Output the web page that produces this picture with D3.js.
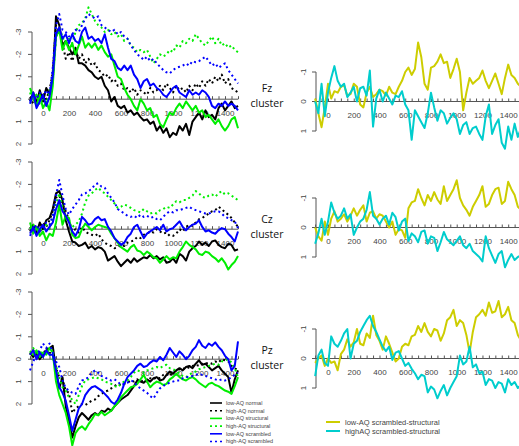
<!DOCTYPE html>
<html>
<head>
<meta charset="utf-8">
<script src="https://cdn.jsdelivr.net/npm/d3@7"></script>
<style>
  body { margin: 0; background: #fff; }
  svg { display: block; }
</style>
</head>
<body>
<svg id="chart" width="519" height="446"></svg>
<script>
// sample times (ms), one value every 25 ms from -100 to 1500
const times = d3.range(-100, 1501, 25)

const xTickLabels = [0, 200, 400, 600, 800, 1000, 1200, 1400]
const leftYTicks = [-3, -2, -1, 0, 1, 2]
const rightYTicks = [-1, 0, 1]
const clusterNames = ["Fz", "Cz", "Pz"]

const leftSeriesNames = ["low-AQ normal", "high-AQ normal", "low-AQ structural", "high-AQ structural", "low-AQ scrambled", "high-AQ scrambled"]
const rightSeriesNames = ["low-AQ scrambled-structural", "highAQ scrambled-structural"]

// ---- Fz cluster ----
const fzLowNormal = [0.1,-0.3,0.2,-0.4,0.1,-0.5,-0.2,-0.8,-3.7,-3.3,-2.4,-2.6,-2.3,-2.0,-2.3,-1.6,-1.6,-1.5,-1.3,-1.2,-1.0,-0.9,-1.0,-0.6,-0.4,0.1,-0.1,0.3,0.4,0.3,0.6,0.5,0.7,0.6,0.8,0.95,0.9,1.1,1.0,1.4,1.2,1.5,1.3,1.7,1.5,1.6,1.2,1.4,1.1,1.6,1.0,0.8,0.6,0.9,0.5,0.8,0.7,0.9,0.4,0.2,0.5,0.3,0.1,0.4,0.3]
const fzHighNormal = [-0.1,0.2,-0.2,0.1,-0.3,0.0,-0.4,-1.2,-3.3,-3.0,-2.5,-1.8,-2.1,-1.7,-2.2,-1.8,-2.0,-1.6,-1.8,-1.5,-1.6,-1.3,-1.2,-1.0,-1.1,-0.8,-0.9,-0.6,-0.7,-0.4,-0.5,-0.3,-0.5,-0.2,-0.4,-0.3,-0.2,-0.5,-0.3,-0.4,-0.6,-0.4,-0.7,-0.5,-0.3,-0.6,-0.4,-0.5,-0.3,-0.6,-0.4,-0.7,-0.5,-0.8,-0.6,-0.9,-0.7,-1.0,-0.8,-1.1,-0.7,-0.9,-0.5,-0.4,-0.3]
const fzLowStructural = [-0.5,-0.1,0.3,-0.2,0.4,0.1,0.5,-0.6,-2.8,-3.1,-2.2,-2.6,-2.2,-2.5,-2.0,-2.4,-2.8,-2.3,-2.5,-2.3,-2.5,-2.2,-2.4,-2.1,-1.9,-2.0,-1.5,-1.0,-0.9,-0.5,-0.2,0.0,0.3,0.5,0.0,0.2,0.5,0.4,0.8,0.7,1.1,1.25,0.9,0.6,0.7,0.4,0.2,0.4,0.1,0.3,0.5,0.3,0.6,0.5,0.8,0.7,0.9,1.1,0.9,1.2,1.4,1.2,0.9,0.8,1.3]
const fzHighStructural = [-0.3,0.1,-0.2,0.2,-0.1,0.2,-0.3,-0.9,-2.7,-3.2,-2.8,-2.4,-2.7,-2.5,-3.0,-3.3,-3.4,-3.6,-4.1,-3.8,-3.5,-3.3,-3.2,-3.0,-3.1,-2.9,-3.0,-2.8,-2.9,-2.6,-2.7,-2.4,-2.3,-2.1,-2.2,-2.1,-2.2,-1.9,-1.6,-1.8,-2.0,-1.9,-2.0,-2.2,-2.1,-2.4,-2.3,-2.6,-2.5,-2.7,-2.6,-2.9,-2.7,-2.5,-2.4,-2.6,-2.8,-2.5,-2.7,-2.4,-2.5,-2.3,-2.4,-2.2,-2.1]
const fzLowScrambled = [0.2,-0.3,0.4,0.1,-0.2,0.3,-0.1,-1.0,-2.9,-3.2,-2.7,-2.9,-2.5,-2.9,-2.6,-2.5,-3.0,-3.2,-2.7,-2.8,-2.6,-2.7,-2.5,-2.9,-2.3,-1.8,-1.7,-1.4,-1.3,-1.5,-1.3,-1.5,-1.1,-0.9,-0.5,-0.8,-0.9,-0.6,-0.7,-0.5,-0.4,-0.2,-0.1,-0.3,-0.5,-0.6,-0.3,-0.2,-0.1,-0.4,-0.2,-0.3,-0.2,-0.4,-0.3,-0.1,0.3,0.4,0.2,0.3,0.1,0.3,0.2,0.3,0.5]
const fzHighScrambled = [0.1,-0.2,0.0,-0.3,-0.1,-0.4,-0.2,-1.4,-3.3,-3.8,-3.1,-3.0,-2.8,-2.9,-3.1,-3.0,-3.3,-3.6,-3.8,-3.7,-3.6,-3.7,-3.3,-3.2,-3.1,-3.0,-3.1,-2.9,-3.0,-2.8,-2.7,-2.4,-2.2,-2.0,-1.9,-1.75,-1.9,-1.7,-1.8,-1.6,-1.45,-1.3,-1.2,-1.15,-1.3,-1.4,-1.45,-1.5,-1.6,-1.5,-1.7,-1.65,-1.7,-1.8,-1.9,-1.7,-1.5,-1.6,-1.4,-1.5,-1.6,-1.3,-1.1,-0.9,-0.7]
const fzLowDiff = [-0.1,0.4,0.87,0.2,-0.6,-0.1,-0.35,-0.3,-0.5,-0.55,-0.2,-0.25,-0.6,-0.5,0.1,0.2,-0.3,-0.5,-0.15,-0.25,-0.4,-0.35,-0.2,-0.5,-0.3,-0.25,-0.5,-0.7,-1.0,-1.15,-0.9,-1.1,-2.0,-1.5,-0.6,-0.4,-1.15,-1.2,-1.35,-1.6,-1.3,-1.35,-0.8,-1.1,-1.45,-1.0,0.3,-0.3,-0.8,-0.6,-0.7,-0.8,-1.05,-0.7,-0.45,-0.7,-0.95,-0.6,-0.25,-0.8,-1.25,-0.9,-0.8,-0.6,-0.5]
const fzHighDiff = [0.0,0.4,-0.6,0.5,-0.3,-0.8,-1.2,-0.7,-0.5,-0.6,-0.15,-0.3,-0.5,0.0,-0.45,-0.5,-0.2,-1.05,0.85,-0.1,-0.4,0.0,-0.3,-0.1,0.1,-0.2,-0.15,-0.35,0.1,0.3,1.3,0.3,0.5,0.7,0.9,0.4,-0.3,0.2,0.65,0.3,0.4,0.75,0.55,0.4,0.6,1.1,0.8,0.7,1.1,0.9,0.85,1.1,1.3,0.5,0.1,1.1,0.8,0.6,1.4,1.6,0.85,1.3,0.75,1.2,0.9]

// ---- Cz cluster ----
const czLowNormal = [0.1,-0.2,0.2,-0.3,0.0,-0.4,-0.5,-0.9,-1.6,-1.7,-1.3,-0.4,0.1,0.55,0.6,0.75,0.7,0.6,0.85,0.75,0.9,0.8,0.85,1.0,1.4,1.3,1.2,1.45,1.65,1.5,1.35,1.5,1.3,1.45,1.35,1.25,1.3,1.15,1.3,1.2,1.35,1.25,1.5,1.45,1.3,1.5,1.1,1.2,1.4,1.0,0.85,0.75,0.55,0.7,0.6,0.75,0.55,0.5,0.7,0.8,0.85,0.65,0.7,0.95,0.9]
const czHighNormal = [-0.1,0.1,-0.2,0.2,-0.3,-0.1,-0.4,-0.8,-1.4,-1.5,-1.1,-0.8,-0.4,0.1,0.0,0.15,-0.1,0.1,0.2,0.25,0.3,0.2,0.45,0.6,0.7,0.75,0.85,0.8,0.7,0.75,0.6,0.55,0.5,0.35,0.4,0.25,0.2,0.1,0.15,0.0,0.1,0.2,0.15,0.3,0.3,0.2,0.0,0.1,-0.1,-0.2,-0.15,-0.3,-0.45,-0.5,-0.6,-0.7,-0.8,-0.85,-1.0,-0.9,-0.75,-0.65,-0.5,-0.3,-0.1]
const czLowStructural = [-0.3,0.2,-0.1,0.3,0.1,0.5,0.2,0.3,-0.3,-1.1,-0.2,-0.6,-0.5,0.25,0.4,0.35,0.0,-0.25,-0.1,0.05,-0.1,-0.2,-0.15,-0.1,-0.05,0.2,0.4,0.6,0.8,0.9,1.0,0.8,0.7,0.95,1.0,1.15,1.0,1.1,1.25,1.3,1.5,1.35,1.2,1.35,1.25,1.3,1.0,0.8,0.55,0.7,0.8,0.9,1.1,1.15,1.0,1.05,1.2,1.3,1.45,1.3,1.5,1.8,1.6,1.45,1.2]
const czHighStructural = [0.0,-0.2,0.1,-0.1,0.2,-0.2,0.0,-0.5,-1.1,-1.6,-1.0,-0.5,-0.3,-0.1,-0.2,-0.35,-0.7,-1.2,-1.5,-1.6,-1.75,-1.85,-1.7,-1.6,-1.45,-1.3,-1.15,-0.95,-1.0,-1.1,-1.05,-0.95,-0.85,-0.8,-0.75,-0.9,-0.8,-0.7,-0.75,-0.7,-0.85,-0.9,-1.0,-0.95,-1.1,-1.25,-1.2,-1.3,-1.3,-1.4,-1.5,-1.7,-1.6,-1.45,-1.4,-1.5,-1.55,-1.45,-1.6,-1.7,-1.55,-1.6,-1.5,-1.4,-1.3]
const czLowScrambled = [0.2,-0.1,0.3,0.0,-0.2,0.1,-0.1,-0.3,-0.9,-1.3,-0.8,-0.6,-0.3,0.1,0.3,0.0,-0.55,-0.4,-0.2,-0.25,-0.45,-0.55,-0.4,-0.45,-0.1,0.1,0.4,0.55,0.7,0.6,0.35,0.2,-0.1,-0.2,0.1,0.4,0.2,0.1,0.0,-0.1,0.05,-0.2,0.1,0.0,-0.05,-0.2,-0.35,-0.1,0.05,-0.1,-0.2,-0.25,-0.4,-0.1,0.1,0.05,0.15,0.2,0.05,-0.05,0.0,0.2,0.35,0.55,0.1]
const czHighScrambled = [0.3,0.0,-0.2,0.1,-0.1,-0.3,-0.2,-0.6,-1.5,-2.2,-1.5,-0.9,-0.65,-0.9,-1.1,-1.3,-1.55,-1.6,-1.7,-1.8,-2.0,-2.05,-1.9,-1.85,-1.6,-1.4,-1.2,-0.9,-0.8,-0.7,-0.6,-0.55,-0.6,-0.5,-0.65,-0.55,-0.6,-0.5,-0.55,-0.45,-0.4,-0.55,-0.7,-0.8,-0.75,-0.85,-0.85,-0.9,-0.95,-1.0,-0.9,-0.85,-0.8,-0.75,-0.7,-0.7,-0.75,-0.8,-0.8,-0.7,-0.55,-0.5,-0.4,-0.35,-0.05]
const czLowDiff = [0.0,0.3,0.45,-0.2,0.25,-0.3,-0.55,-0.2,-0.3,-0.45,-0.2,-0.4,-0.65,-0.4,-0.6,-0.75,-0.2,-0.5,-0.55,-0.3,-0.45,-0.4,-0.2,0.0,-0.2,0.25,0.05,0.1,0.35,-0.65,-0.85,-0.9,-1.3,-1.0,-0.75,-1.1,-0.9,-1.2,-0.95,-0.8,-1.4,-0.9,-1.1,-1.3,-1.6,-1.0,-0.75,-0.6,-0.4,-0.7,-0.9,-1.1,-1.4,-0.7,-0.8,-1.1,-1.3,-1.35,-0.8,-0.9,-1.55,-1.3,-1.1,-0.7,-0.6]
const czHighDiff = [0.55,0.2,-0.3,0.25,-0.2,-0.85,-0.5,-0.3,-0.4,-0.65,-0.3,-0.45,0.25,0.0,-0.2,-0.3,-0.6,-1.2,-0.4,-0.3,-0.1,-0.3,-0.4,-0.1,-0.5,-0.35,0.1,-0.2,-0.3,0.45,0.2,0.3,0.5,0.15,0.1,0.55,0.3,0.35,0.8,0.5,0.15,0.4,0.5,0.6,0.45,0.3,0.6,0.7,0.55,0.8,0.9,1.0,1.15,0.3,0.7,0.95,1.2,0.9,0.8,1.35,1.1,0.9,1.1,1.0,0.95]

// ---- Pz cluster ----
const pzLowNormal = [-0.3,-0.1,-0.3,0.0,-0.2,-0.3,-0.5,-0.6,0.5,1.3,0.8,2.1,2.8,3.5,3.0,2.6,2.4,2.55,2.7,2.5,2.4,2.5,2.3,2.35,2.2,2.3,2.1,1.95,1.8,1.7,1.6,1.4,1.2,0.95,1.0,1.05,0.9,1.0,0.85,0.8,0.95,0.9,0.7,0.55,0.65,0.5,0.4,0.5,0.35,0.3,0.4,0.2,0.05,0.25,0.2,0.35,0.5,0.4,0.3,0.5,0.65,0.8,1.5,0.9,0.5]
const pzHighNormal = [-0.2,-0.4,-0.1,-0.3,-0.2,-0.5,-0.3,-0.2,0.4,0.8,0.9,1.4,1.5,2.4,2.2,2.1,2.0,2.05,1.95,1.85,1.8,1.65,1.55,1.45,1.4,1.3,1.2,1.1,1.15,1.1,1.05,0.95,1.0,0.9,1.0,0.95,1.0,0.85,0.9,0.8,0.85,0.7,0.65,0.75,0.55,0.5,0.45,0.4,0.45,0.35,0.3,0.25,0.3,0.2,0.2,0.15,0.2,0.1,0.15,0.0,0.05,0.1,0.3,0.4,0.5]
const pzLowStructural = [-0.3,-0.2,-0.4,-0.1,-0.3,-0.2,-0.5,-0.3,1.0,1.6,2.0,2.4,3.0,3.85,3.3,3.1,3.0,3.15,2.9,2.7,2.45,2.5,2.35,2.5,2.4,2.3,2.1,1.95,1.7,1.55,1.4,1.25,1.2,1.1,0.9,0.7,1.0,1.25,1.1,1.0,1.05,1.15,1.1,0.9,0.8,0.65,0.8,0.9,0.95,0.85,0.8,0.9,1.05,1.15,1.25,1.1,1.05,1.15,1.2,1.3,1.4,1.45,1.55,1.2,0.8]
const pzHighStructural = [-0.3,-0.5,-0.2,-0.4,-0.1,-0.3,-0.2,0.0,0.3,0.8,1.25,1.4,1.7,1.8,2.0,1.6,1.2,0.95,0.9,0.85,0.8,0.85,0.9,1.0,1.05,1.1,1.2,1.25,1.1,1.0,0.95,0.8,0.6,0.5,0.55,0.6,0.5,0.45,0.4,0.35,0.4,0.3,0.25,0.4,0.45,0.5,0.65,0.75,0.8,0.7,0.6,0.55,0.45,0.4,0.35,0.3,0.25,0.2,0.25,0.1,0.05,0.0,0.15,0.4,0.8]
const pzLowScrambled = [-0.2,-0.4,0.0,-0.3,-0.1,-0.4,-0.2,-0.2,0.5,1.25,1.5,1.85,2.5,3.2,2.7,2.2,2.0,1.6,1.4,1.25,1.2,1.3,1.4,1.55,1.7,1.9,2.0,1.8,1.5,1.1,0.8,0.65,0.5,0.3,0.2,0.35,0.3,0.15,0.05,0.1,-0.1,0.05,-0.2,-0.5,-0.3,-0.1,-0.35,-0.2,0.0,-0.15,-0.4,-0.55,-0.85,-0.6,-0.5,-0.7,-0.6,-0.75,-0.55,-0.4,-0.15,0.0,0.5,0.3,-0.8]
const pzHighScrambled = [0.5,0.1,-0.2,-0.4,-0.7,-0.5,-0.7,-0.3,0.1,0.35,0.95,1.3,1.4,1.5,1.55,1.2,0.95,0.9,0.8,0.6,0.5,0.6,0.75,0.8,0.9,0.95,0.9,1.0,1.15,1.1,1.05,0.95,1.0,1.2,1.3,1.4,1.5,1.65,1.75,1.5,1.3,1.2,1.1,1.05,1.0,0.95,0.95,0.85,0.8,0.8,0.75,0.7,0.65,0.7,0.75,0.8,0.85,0.9,0.95,0.9,0.95,0.9,0.8,0.7,0.6]
const pzLowDiff = [0.15,0.0,-0.1,0.25,0.0,0.15,0.1,0.4,-0.15,-0.3,-0.65,-0.4,-0.55,-1.0,-0.5,-0.45,-0.85,-0.7,-1.45,-0.8,-0.6,-0.3,-0.75,-0.5,-0.2,0.1,0.0,-0.4,-0.5,-0.45,-0.75,-0.8,-1.1,-0.9,-1.2,-0.9,-0.75,-1.0,-0.95,-0.6,-0.85,-1.3,-1.4,-1.65,-1.1,-1.3,-1.2,-0.8,-0.2,-0.9,-1.4,-1.5,-1.65,-1.45,-1.9,-1.55,-1.6,-1.95,-1.4,-1.5,-1.75,-1.3,-1.2,-0.8,-0.6]
const pzHighDiff = [0.6,-0.1,-0.3,0.15,0.25,-0.75,-0.5,-0.4,-0.6,-0.85,-1.0,0.0,-0.5,-0.6,-0.9,-1.1,-1.3,-1.45,-1.1,-0.9,-0.65,-0.4,-0.25,-0.4,0.05,-0.2,-0.25,0.0,0.25,0.15,0.35,0.5,0.7,0.55,0.6,1.15,0.95,1.05,1.35,1.1,0.9,1.25,1.0,0.8,0.6,-0.1,0.2,0.1,-0.4,0.3,0.2,0.5,0.45,0.9,0.7,0.75,1.0,0.8,0.85,1.15,0.7,0.9,0.8,1.0,0.9]

const leftData = [
  [fzLowNormal, fzHighNormal, fzLowStructural, fzHighStructural, fzLowScrambled, fzHighScrambled],
  [czLowNormal, czHighNormal, czLowStructural, czHighStructural, czLowScrambled, czHighScrambled],
  [pzLowNormal, pzHighNormal, pzLowStructural, pzHighStructural, pzLowScrambled, pzHighScrambled]
]
const rightData = [
  [fzLowDiff, fzHighDiff],
  [czLowDiff, czHighDiff],
  [pzLowDiff, pzHighDiff]
]

const leftStyles = [
  { color: "#000000", dash: null },
  { color: "#000000", dash: "2,3" },
  { color: "#00ee00", dash: null },
  { color: "#00ee00", dash: "2,3" },
  { color: "#0000ff", dash: null },
  { color: "#0000ff", dash: "2,3" }
]
const rightColors = ["#cdcd00", "#00cdcd"]

const svg = d3.select("#chart")
const font = "'Liberation Sans', Arial, sans-serif"
const axisColor = "#555"
const labelColor = "#444"

const xLeft = d3.scaleLinear().domain([0, 1400]).range([43, 225])
const xRight = d3.scaleLinear().domain([0, 1400]).range([328, 508.2])

const leftTops = [32, 162, 292]
const rightTops = [72, 198, 329]

function drawAxes(g, x, y, yTicks, axisX, labelX) {
  // y axis
  g.append("line")
    .attr("x1", axisX).attr("x2", axisX)
    .attr("y1", y(yTicks[0])).attr("y2", y(yTicks[yTicks.length - 1]))
    .attr("stroke", axisColor).attr("stroke-width", 1)
  yTicks.forEach(t => {
    g.append("line")
      .attr("x1", axisX - 4).attr("x2", axisX)
      .attr("y1", y(t)).attr("y2", y(t))
      .attr("stroke", axisColor)
    g.append("text")
      .attr("transform", `translate(${labelX},${y(t)}) rotate(-90)`)
      .attr("text-anchor", "middle")
      .attr("dy", "0.35em")
      .attr("font-family", font).attr("font-size", 8)
      .attr("fill", labelColor)
      .text(t)
  })

  // zero line with small upward ticks
  const y0 = y(0)
  const axisG = g.append("g").attr("transform", `translate(0,${y0})`)
  axisG.call(d3.axisBottom(x).tickValues(d3.range(-100, 1501, 50)).tickSizeInner(-3).tickSizeOuter(0).tickFormat(""))
  axisG.select(".domain").remove()
  axisG.selectAll("line").attr("stroke", axisColor)

  const labG = g.append("g").attr("transform", `translate(0,${y0})`)
  labG.call(d3.axisBottom(x).tickValues(xTickLabels).tickSize(0).tickPadding(11).tickFormat(d3.format("d")))
  labG.select(".domain").remove()
  labG.selectAll("text").attr("font-family", font).attr("font-size", 8).attr("fill", labelColor)
}

function drawZeroLine(g, x, y) {
  g.append("line")
    .attr("x1", x(-100)).attr("x2", x(1500))
    .attr("y1", y(0)).attr("y2", y(0))
    .attr("stroke", axisColor).attr("stroke-width", 1)
}

// Left column: condition waveforms
leftData.forEach((series, p) => {
  const y = d3.scaleLinear().domain([-3, 2]).range([leftTops[p], leftTops[p] + 112])
  const g = svg.append("g")
  drawZeroLine(g, xLeft, y)
  drawAxes(g, xLeft, y, leftYTicks, 32, 18)
  const line = d3.line().x((d, i) => xLeft(times[i])).y(d => y(d))
  series.forEach((vals, s) => {
    g.append("path")
      .datum(vals)
      .attr("d", line)
      .attr("fill", "none")
      .attr("stroke", leftStyles[s].color)
      .attr("stroke-width", 2)
      .attr("stroke-linejoin", "round")
      .attr("stroke-dasharray", leftStyles[s].dash)
  })
})

// Right column: difference waves
rightData.forEach((series, p) => {
  const y = d3.scaleLinear().domain([-1, 1]).range([rightTops[p], rightTops[p] + 59])
  const g = svg.append("g")
  drawZeroLine(g, xRight, y)
  drawAxes(g, xRight, y, rightYTicks, 316, 303)
  const line = d3.line().x((d, i) => xRight(times[i])).y(d => y(d))
  series.forEach((vals, s) => {
    g.append("path")
      .datum(vals)
      .attr("d", line)
      .attr("fill", "none")
      .attr("stroke", rightColors[s])
      .attr("stroke-width", 2)
      .attr("stroke-linejoin", "round")
  })
})

// cluster names in the middle
const clusterY = [88, 219, 350]
clusterNames.forEach((name, i) => {
  const t = svg.append("text")
    .attr("x", 267)
    .attr("y", clusterY[i])
    .attr("text-anchor", "middle")
    .attr("font-family", "'Open Sans', 'Noto Sans', sans-serif")
    .attr("font-size", 10.5)
    .attr("fill", "#111")
  t.append("tspan").attr("x", 267).attr("dy", "0.35em").text(name)
  t.append("tspan").attr("x", 267).attr("dy", "1.5em").text("cluster")
})

// left legend
const legL = svg.append("g").attr("transform", "translate(210,403)")
leftSeriesNames.forEach((name, i) => {
  const row = legL.append("g").attr("transform", `translate(0,${i * 7.7})`)
  row.append("line")
    .attr("x1", 0).attr("x2", 12).attr("y1", 0).attr("y2", 0)
    .attr("stroke", leftStyles[i].color)
    .attr("stroke-width", 1.6)
    .attr("stroke-dasharray", leftStyles[i].dash)
  row.append("text")
    .attr("x", 16).attr("dy", "0.35em")
    .attr("font-family", font).attr("font-size", 5.5)
    .attr("fill", labelColor)
    .text(name)
})

// right legend
const legR = svg.append("g").attr("transform", "translate(326,422)")
rightSeriesNames.forEach((name, i) => {
  const row = legR.append("g").attr("transform", `translate(0,${i * 9})`)
  row.append("line")
    .attr("x1", 0).attr("x2", 14).attr("y1", 0).attr("y2", 0)
    .attr("stroke", rightColors[i]).attr("stroke-width", 2)
  row.append("text")
    .attr("x", 19).attr("dy", "0.35em")
    .attr("font-family", font).attr("font-size", 7.5)
    .attr("fill", labelColor)
    .text(name)
})
</script>
</body>
</html>
